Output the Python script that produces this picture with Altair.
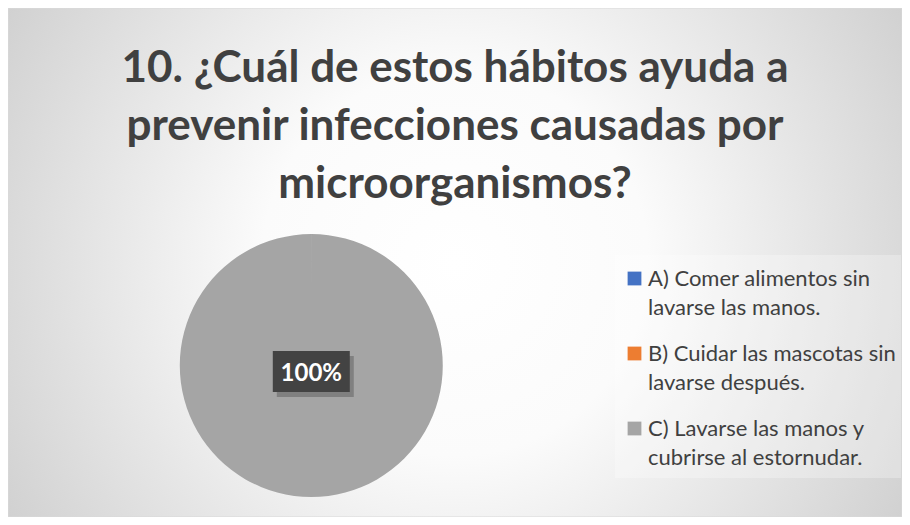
import altair as alt
import pandas as pd
import math

# ---- data ----
title_lines = ["10. ¿Cuál de estos hábitos ayuda a",
               "prevenir infecciones causadas por",
               "microorganismos?"]
categories = ["A) Comer alimentos sin lavarse las manos.",
              "B) Cuidar las mascotas sin lavarse después.",
              "C) Lavarse las manos y cubrirse al estornudar."]
legend_lines = [["A) Comer alimentos sin", "lavarse las manos."],
                ["B) Cuidar las mascotas sin", "lavarse después."],
                ["C) Lavarse las manos y", "cubrirse al estornudar."]]
percentages = [0, 0, 100]
colors = ["#4472C4", "#ED7D31", "#A5A5A5"]

W, H = 894, 509
CX, CY, R = 303.3, 357.5, 131.5
TXT = "#404040"

pie_df = pd.DataFrame({"cat": categories, "value": percentages, "idx": [0, 1, 2]})
leg_df = pd.DataFrame({"cat": categories, "lines": legend_lines, "idx": [0, 1, 2]})
one = pd.DataFrame({"d": [0]})

color_scale = alt.Scale(domain=categories, range=colors)

# background radial gradient
bg = alt.Chart(one).mark_rect(
    fill=alt.RadialGradient(
        gradient="radial", x1=0.5, y1=0.5, r1=0, x2=0.5, y2=0.5, r2=0.72,
        stops=[alt.GradientStop(offset=0, color="#ffffff"),
               alt.GradientStop(offset=0.3, color="#fbfbfb"),
               alt.GradientStop(offset=1, color="#c0c0c0")]),
    stroke="#d9d9d9", strokeWidth=1
).encode(x=alt.value(0), x2=alt.value(W), y=alt.value(0), y2=alt.value(H))

# legend backdrop
leg_bg = alt.Chart(one).mark_rect(fill="#ffffff", opacity=0.28).encode(
    x=alt.value(607), x2=alt.value(W - 1), y=alt.value(247), y2=alt.value(470))

# title
title = alt.Chart(pd.DataFrame({"t": [title_lines]})).mark_text(
    font="Lato", fontWeight="bold", fontSize=44, color=TXT,
    align="center", baseline="alphabetic", lineHeight=58
).encode(text="t:N", x=alt.value(W / 2), y=alt.value(74))

# soft pie shadow
shadow_layers = []
for k in range(1, 8):
    r = R + k
    shadow_layers.append(
        alt.Chart(one).mark_circle(color="#000000", opacity=0.022).encode(
            x=alt.value(CX), y=alt.value(CY + 2), size=alt.value(math.pi * r * r)))

pie = alt.Chart(pie_df).transform_filter("datum.value > 0").mark_arc(radius=R).encode(
    theta=alt.Theta("value:Q", stack=True, scale=alt.Scale(range=[0, 6.2829])),
    color=alt.Color("cat:N", scale=color_scale, legend=None),
    order=alt.Order("idx:Q"),
    x=alt.value(CX), y=alt.value(CY))

lab_base = alt.Chart(pie_df).transform_joinaggregate(
    total="sum(value)").transform_calculate(
    pct="round(datum.value / datum.total * 100) + '%'").transform_filter("datum.value > 0")

box_shadow = lab_base.mark_rect(color="#000000", opacity=0.22).encode(
    x=alt.value(CX - 38.5 + 4), x2=alt.value(CX + 38.5 + 4),
    y=alt.value(CY - 14.5 + 5), y2=alt.value(CY + 26.5 + 5))
box = lab_base.mark_rect(color="#434343").encode(
    x=alt.value(CX - 38.5), x2=alt.value(CX + 38.5),
    y=alt.value(CY - 14.5), y2=alt.value(CY + 26.5))
label = lab_base.mark_text(font="Lato", fontWeight="bold", fontSize=24,
                           color="#ffffff", baseline="alphabetic", align="center").encode(
    text="pct:N", x=alt.value(CX), y=alt.value(CY + 15))

yscale = alt.Scale(domain=[0, 2], range=[270.5, 420.5])
leg_sq = alt.Chart(leg_df).mark_square(size=190, opacity=1, filled=True).encode(
    x=alt.value(626.5),
    y=alt.Y("idx:Q", scale=yscale, axis=None),
    color=alt.Color("cat:N", scale=color_scale, legend=None))
leg_txt = alt.Chart(leg_df).mark_text(
    font="Lato", fontSize=22, color=TXT, align="left", baseline="alphabetic",
    lineHeight=29.5, dy=7
).encode(x=alt.value(640), y=alt.Y("idx:Q", scale=yscale, axis=None), text="lines:N")

chart = alt.layer(bg, leg_bg, title, *shadow_layers, pie, box_shadow, box, label,
                  leg_sq, leg_txt).properties(
    width=W, height=H, autosize=alt.AutoSizeParams(type="none"), padding=0,
    background="#ffffff"
).configure_view(stroke=None)

chart.save("out.html", embed_options={"renderer": "svg", "actions": False})
